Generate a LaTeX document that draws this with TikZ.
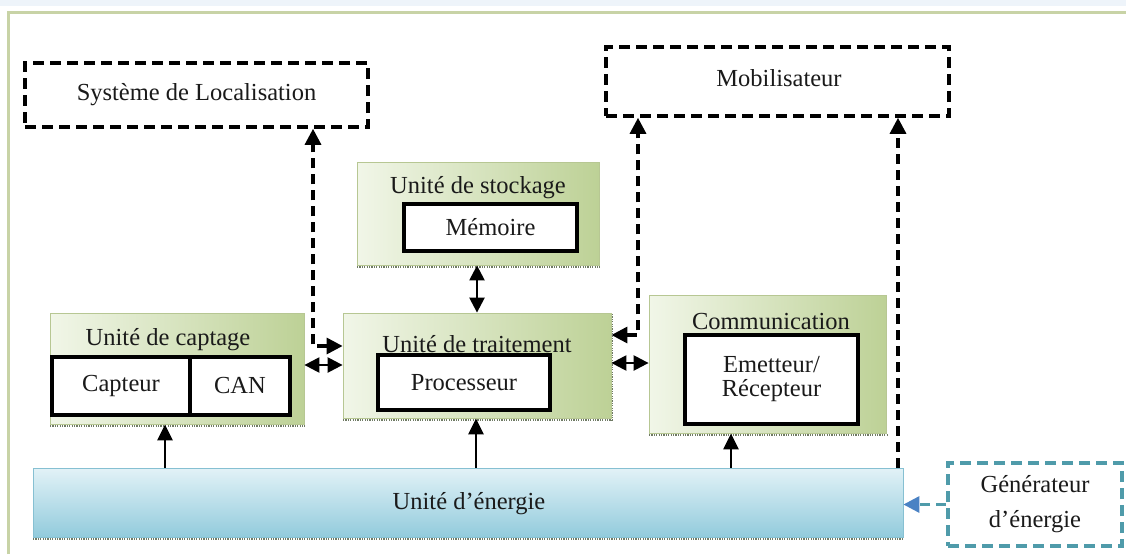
\documentclass[tikz,border=0pt]{standalone}
\usepackage{fontspec}
\setmainfont{Liberation Serif}
\usetikzlibrary{arrows.meta}

\definecolor{frameGreen}{HTML}{C8D3A6}
\definecolor{topBlue}{HTML}{EEF4FA}
\definecolor{grLight}{HTML}{F1F6E8}
\definecolor{grDark}{HTML}{BDD196}
\definecolor{grEdge}{HTML}{B7C793}
\definecolor{shadowGray}{HTML}{6F7A64}
\definecolor{enLight}{HTML}{E2F2F7}
\definecolor{enDark}{HTML}{92CBDC}
\definecolor{enEdge}{HTML}{86C0D2}
\definecolor{genTeal}{HTML}{4F9BAA}
\definecolor{genArrow}{HTML}{4A82C4}
\definecolor{ink}{HTML}{1A1A1A}

\tikzset{
  lbl/.style={font=\fontsize{24.5}{28}\selectfont, text=ink, inner sep=0pt},
  unitbox/.style={draw=grEdge, line width=0.8pt, left color=grLight, right color=grDark, inner sep=0pt},
  innerbox/.style={draw=black, line width=3.6pt, fill=white, inner sep=0pt, lbl},
  dashbox/.style={draw=black, line width=3.6pt, dash pattern=on 11pt off 6pt, fill=white, inner sep=0pt, lbl},
  genbox/.style={draw=genTeal, line width=3.6pt, dash pattern=on 11pt off 6pt, fill=white, inner sep=0pt, lbl, align=center},
  energybox/.style={draw=enEdge, line width=0.8pt, top color=enLight, bottom color=enDark, inner sep=0pt},
  shadowline/.style={shadowGray, line width=2.2pt, dash pattern=on 1.2pt off 1.2pt},
  conn/.style={line width=2.4pt, -{Triangle[length=16pt,width=15pt]}},
  dashconn/.style={line width=3.2pt, dash pattern=on 10pt off 6pt},
  dconn/.style={dashconn, {Triangle[length=16pt,width=16pt]}-{Triangle[length=16pt,width=16pt]}},
  biconn/.style={line width=2.4pt, {Triangle[length=15pt,width=15pt]}-{Triangle[length=15pt,width=15pt]}},
}

\begin{document}
\begin{tikzpicture}[x=1pt, y=-1pt]
  % page and frame
  \useasboundingbox (0,0) rectangle (1126,554);
  \fill[white] (0,0) rectangle (1126,554);
  \fill[topBlue] (0,0) rectangle (1126,6);
  \draw[frameGreen, line width=3pt] (8,554) -- (8,12) -- (1126,12);

  % outer dashed blocks
  \node[dashbox, minimum width=343pt, minimum height=64pt] (loc) at (196.5,95) {Système de Localisation};
  \node[dashbox, minimum width=343pt, minimum height=69pt] (mob) at (777.5,81.5) {};
  \node[lbl] at (779,78) {Mobilisateur};

  % storage unit
  \draw[shadowline] (357,267) -- (600,267);
  \node[unitbox, minimum width=242pt, minimum height=103pt] (stock) at (478,213.5) {};
  \node[lbl] at (478,188) {Unité de stockage};
  \node[innerbox, minimum width=173pt, minimum height=47pt] (mem) at (490.5,227.5) {Mémoire};

  % sensing unit
  \draw[shadowline] (50,426) -- (305,426);
  \node[unitbox, minimum width=254pt, minimum height=111pt] (capt) at (177,368.5) {};
  \node[lbl] at (168,340) {Unité de captage};
  \node[innerbox, minimum width=138pt, minimum height=58pt] (capteur) at (121,386) {Capteur};
  \node[innerbox, minimum width=100pt, minimum height=58pt] (can) at (240,386) {CAN};

  % processing unit
  \draw[shadowline] (343,420) -- (613,420);
  \draw[shadowline] (612,314) -- (612,420);
  \node[unitbox, minimum width=268pt, minimum height=105pt] (trait) at (477,365.5) {};
  \node[lbl] at (477,344) {Unité de traitement};
  \node[innerbox, minimum width=172pt, minimum height=55pt] (proc) at (464,382.5) {Processeur};

  % communication unit
  \draw[shadowline] (649,435) -- (887,435);
  \node[unitbox, minimum width=237pt, minimum height=138pt] (comm) at (767.5,364) {};
  \node[lbl] at (771,322) {Communication};
  \node[innerbox, minimum width=173pt, minimum height=89pt, align=center] (emrec) at (771.5,379.5)
    {Emetteur/\\[-4pt]Récepteur};

  % energy unit
  \draw[shadowline] (33,539) -- (904,539);
  \node[energybox, minimum width=870pt, minimum height=69pt] (energy) at (468,502.5) {};
  \node[lbl] at (469,504) {Unité d’énergie};

  % energy generator
  \node[genbox, minimum width=174pt, minimum height=83pt] (gen) at (1035,504.5)
    {Générateur\\[7pt]d’énergie};

  % reference abscissas / ordinates of the connectors
  \coordinate (xcapt) at (165,0);
  \coordinate (xtrait) at (476,0);
  \coordinate (xcomm) at (731,0);
  \coordinate (xloc) at (313,0);
  \coordinate (xmobA) at (638,0);
  \coordinate (xmobB) at (898,0);
  \coordinate (xstock) at (477,0);
  \coordinate (yloc) at (0,346);
  \coordinate (ymob) at (0,335);
  \coordinate (ybusA) at (0,365);
  \coordinate (ybusB) at (0,363);

  % power supply links
  \draw[conn] (energy.north -| xcapt) -- (capt.south -| xcapt);
  \draw[conn] (energy.north -| xtrait) -- (trait.south -| xtrait);
  \draw[conn] (energy.north -| xcomm) -- (comm.south -| xcomm);
  \draw[dashconn, -{Triangle[length=16pt,width=16pt]}]
    (energy.north -| xmobB) -- (mob.south -| xmobB);

  % data links
  \draw[biconn] (stock.south -| xstock) -- (trait.north -| xstock);
  \draw[biconn] (capt.east |- ybusA) -- (trait.west |- ybusA);
  \draw[biconn] (trait.east |- ybusB) -- (comm.west |- ybusB);
  \draw[dconn] (trait.west |- yloc) -| (loc.south -| xloc);
  \draw[dconn] (trait.east |- ymob) -| (mob.south -| xmobA);

  % generator feed
  \draw[genTeal, dashconn, -{Triangle[length=16pt,width=16pt,color=genArrow]}]
    (gen.west) -- (gen.west -| energy.east);
\end{tikzpicture}
\end{document}
